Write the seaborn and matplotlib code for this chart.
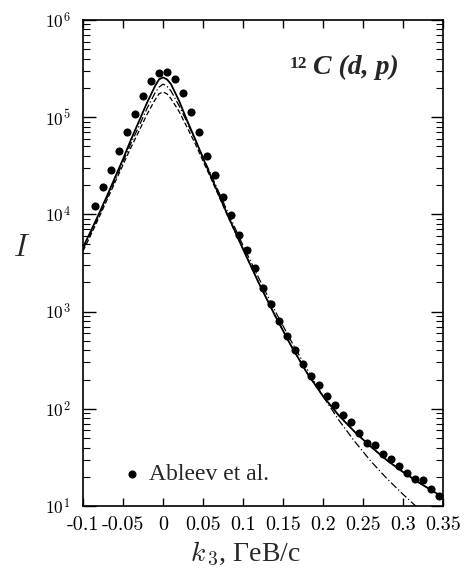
import numpy as np
import pandas as pd
import matplotlib
matplotlib.use("Agg")
import matplotlib.pyplot as plt
import matplotlib.ticker as mticker
import seaborn as sns

# --- data ---
# Ableev et al. points
k3_exp = [-0.085, -0.075, -0.065, -0.055, -0.045, -0.035, -0.025, -0.015, -0.005,
          0.005, 0.015, 0.025, 0.035, 0.045, 0.055, 0.065, 0.075, 0.085, 0.095,
          0.105, 0.115, 0.125, 0.135, 0.145, 0.155, 0.165, 0.175, 0.185, 0.195,
          0.205, 0.215, 0.225, 0.235, 0.245, 0.255, 0.265, 0.275, 0.285, 0.295,
          0.305, 0.315, 0.325, 0.335, 0.345]
I_exp = [1.22e4, 1.91e4, 2.86e4, 4.49e4, 7.04e4, 1.08e5, 1.65e5, 2.36e5, 2.85e5,
         2.92e5, 2.47e5, 1.77e5, 1.13e5, 7.04e4, 3.99e4, 2.54e4, 1.51e4, 9.86e3, 6.14e3,
         4.30e3, 2.81e3, 1.75e3, 1.20e3, 800, 561, 403, 289, 217, 176,
         135, 109, 86, 73, 56, 45, 42, 34, 30.5, 25.8,
         21.9, 19.0, 18.5, 15.0, 12.7]

# theory curves
k3_th = [-0.1, -0.09, -0.08, -0.07, -0.06, -0.05, -0.04, -0.03, -0.02, -0.01, -0.005,
         0.0, 0.005, 0.01, 0.02, 0.03, 0.04, 0.05, 0.06, 0.08, 0.1, 0.12, 0.14, 0.16,
         0.18, 0.2, 0.22, 0.24, 0.26, 0.28, 0.3, 0.32, 0.35]
I_solid = [4.6e3, 6.8e3, 1.02e4, 1.55e4, 2.4e4, 3.7e4, 5.9e4, 9.1e4, 1.41e5, 2.09e5, 2.45e5,
           2.57e5, 2.45e5, 2.19e5, 1.48e5, 9.3e4, 6.0e4, 3.8e4, 2.45e4, 1.02e4, 4.4e3, 1.95e3, 912, 447,
           234, 135, 85, 57.5, 40.7, 29.5, 22.4, 17.4, 12.3]
I_dashed = [4.2e3, 6.2e3, 9.3e3, 1.41e4, 2.14e4, 3.24e4, 4.9e4, 7.2e4, 1.07e5, 1.51e5, 1.74e5,
            1.82e5, 1.74e5, 1.55e5, 1.15e5, 7.9e4, 5.4e4, 3.55e4, 2.34e4, 1.0e4, 4.4e3, 1.95e3, 912, 447,
            234, 135, 85, 57.5, 40.7, 29.5, 22.4, 17.4, 12.3]
I_dashdot = [4.4e3, 6.5e3, 9.8e3, 1.48e4, 2.24e4, 3.47e4, 5.4e4, 8.1e4, 1.23e5, 1.78e5, 2.04e5,
             2.19e5, 2.09e5, 1.86e5, 1.32e5, 8.9e4, 5.9e4, 3.9e4, 2.57e4, 1.10e4, 4.8e3, 2.19e3, 1.02e3, 501,
             257, 135, 76, 45.7, 28.8, 19.1, 13.2, 9.3, 5.2]

x_ticks = [-0.1, -0.05, 0.0, 0.05, 0.1, 0.15, 0.2, 0.25, 0.3, 0.35]
x_tick_labels = ["-0.1", "-0.05", "0", "0.05", "0.1", "0.15", "0.2", "0.25", "0.3", "0.35"]

sns.set_theme(style="ticks")
plt.rcParams["font.family"] = ["Liberation Serif", "DejaVu Serif"]
plt.rcParams["mathtext.fontset"] = "cm"

exp = pd.DataFrame({"k3": k3_exp, "I": I_exp})
th = pd.DataFrame({"k3": k3_th, "solid": I_solid, "dashed": I_dashed, "dashdot": I_dashdot})

fig = plt.figure(figsize=(4.65, 5.71), dpi=100)
ax = fig.add_axes([0.1785, 0.1138, 0.7742, 0.8511])

sns.lineplot(data=th, x="k3", y="solid", ax=ax, color="black", lw=1.3)
sns.lineplot(data=th, x="k3", y="dashed", ax=ax, color="black", lw=0.9, linestyle=(0, (4, 2)))
sns.lineplot(data=th, x="k3", y="dashdot", ax=ax, color="black", lw=0.9, linestyle=(0, (6, 2, 1, 2)))
sns.scatterplot(data=exp, x="k3", y="I", ax=ax, color="black", s=34, edgecolor="black",
                linewidth=0, label="Ableev et al.", zorder=5)

ax.set_yscale("log")
ax.set_xlim(-0.1, 0.35)
ax.set_ylim(10, 1e6)

ax.set_xticks(x_ticks)
ax.set_xticklabels(x_tick_labels)
ax.xaxis.set_minor_locator(mticker.NullLocator())
ax.yaxis.set_major_locator(mticker.LogLocator(base=10, numticks=10))
ax.yaxis.set_minor_locator(mticker.LogLocator(base=10, subs=np.arange(2, 10), numticks=20))
ax.yaxis.set_major_formatter(mticker.FuncFormatter(lambda v, p: r"$10^{%d}$" % round(np.log10(v))))
ax.yaxis.set_minor_formatter(mticker.NullFormatter())

ax.tick_params(which="both", direction="in", top=True, right=True, colors="black")
ax.tick_params(axis="x", which="major", length=6, width=1.0, pad=7)
ax.tick_params(axis="y", which="major", length=9, width=1.0, pad=9, labelsize=12.5)
ax.tick_params(axis="y", which="minor", length=5, width=0.8)
for s in ax.spines.values():
    s.set_linewidth(1.2)
    s.set_color("black")

for lbl in ax.get_xticklabels():
    lbl.set_fontfamily("cmr10")
    lbl.set_fontsize(14.5)

ax.set_xlabel(r"$k_{\,3}$, ГеВ/c", fontsize=20)
ax.xaxis.set_label_coords(0.45, -0.07)
ax.set_ylabel(r"$I$", fontsize=22, rotation=0)
ax.yaxis.set_label_coords(-0.17, 0.5)

ax.text(0.575, 0.893, "12", transform=ax.transAxes, fontsize=12.5, fontweight="bold",
        ha="left", va="bottom")
ax.text(0.64, 0.876, "C (d, p)", transform=ax.transAxes, fontsize=20, fontweight="bold",
        fontstyle="italic", ha="left", va="bottom")

ax.legend(loc="lower left", bbox_to_anchor=(0.045, 0.0), frameon=False, handletextpad=0.2,
          handlelength=1.0, prop={"family": "Liberation Serif", "size": 17})

fig.savefig("out.png", dpi=100)
